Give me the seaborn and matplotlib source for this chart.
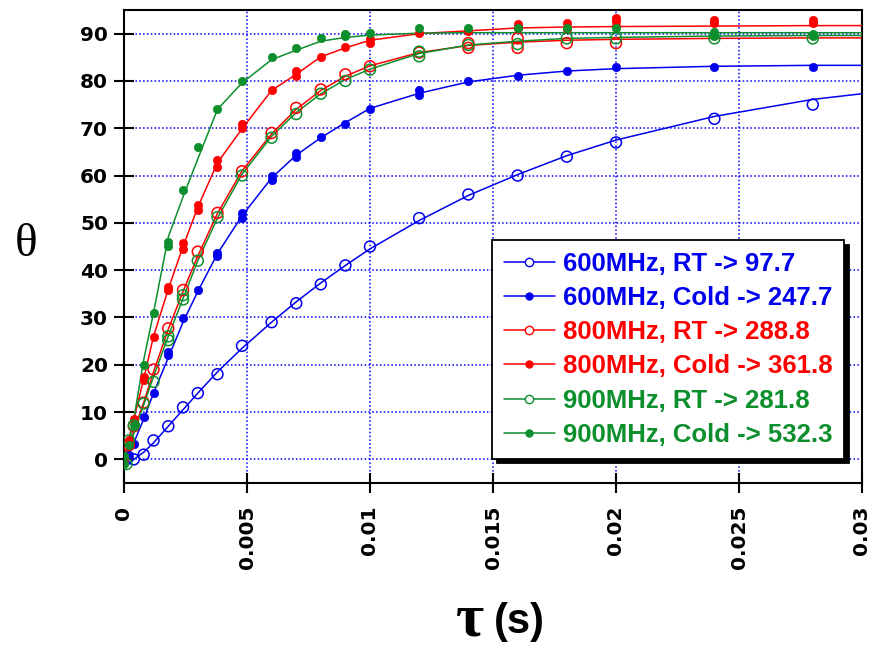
import numpy as np
import pandas as pd
import matplotlib
matplotlib.use("Agg")
import matplotlib.pyplot as plt
from matplotlib.lines import Line2D
import seaborn as sns

# ---- measured points (tau in s, theta in degrees) ----
tau_600_rt = [0.0004, 0.0008, 0.0012, 0.0018, 0.0024, 0.003, 0.0038, 0.0048, 0.006, 0.007,
              0.008, 0.009, 0.01, 0.012, 0.014, 0.016, 0.018, 0.02, 0.024, 0.028]
theta_600_rt = [0, 1, 4, 7, 11, 14, 18, 24, 29, 33,
                37, 41, 45, 51, 56, 60, 64, 67, 72, 75]

tau_600_cold = [0.0002, 0.0004, 0.0008, 0.0012, 0.0018, 0.0018, 0.0024, 0.003, 0.0038, 0.0038,
                0.0048, 0.0048, 0.006, 0.006, 0.007, 0.007, 0.008, 0.009, 0.01, 0.012,
                0.012, 0.014, 0.016, 0.018, 0.02, 0.024, 0.028]
theta_600_cold = [1, 3.2, 9, 14, 22, 22.7, 29.8, 35.7, 43.6, 42.9,
                  52, 51, 60, 59, 64.8, 64, 68.2, 70.8, 74, 78,
                  77, 80, 81, 82, 83, 83, 83]

tau_800_rt = [0.0002, 0.0004, 0.0008, 0.0012, 0.0018, 0.0024, 0.003, 0.0038, 0.0048, 0.006,
              0.007, 0.008, 0.009, 0.01, 0.012, 0.014, 0.014, 0.016, 0.016, 0.018, 0.02]
theta_800_rt = [3, 7, 12, 19, 27.7, 35.8, 43.9, 52.1, 60.9, 69,
                74.3, 78.2, 81.4, 83.1, 86, 88, 87, 89, 87, 88, 88]

tau_800_cold = [0, 0.0002, 0.0002, 0.0004, 0.0008, 0.0008, 0.0012, 0.0018, 0.0018, 0.0024,
                0.0024, 0.003, 0.003, 0.0038, 0.0038, 0.0048, 0.0048, 0.006, 0.007, 0.007,
                0.008, 0.009, 0.01, 0.01, 0.012, 0.014, 0.016, 0.016, 0.018, 0.018,
                0.02, 0.02, 0.02, 0.024, 0.024, 0.028, 0.028]
theta_800_cold = [0, 4, 3.3, 8.6, 17.4, 16.7, 25.9, 36.4, 35.8, 45.8,
                  44.4, 53.7, 52.8, 63.2, 61.9, 70.8, 70.1, 78, 82.1, 81.1,
                  85.1, 87.2, 88.9, 88.1, 90.2, 90.5, 92, 91.2, 92.2, 91,
                  93.4, 92.6, 91.6, 92.9, 92.2, 92.9, 92.2]

tau_900_rt = [0.0001, 0.0002, 0.0004, 0.0008, 0.0012, 0.0018, 0.0018, 0.0024, 0.0024, 0.003,
              0.0038, 0.0048, 0.006, 0.007, 0.008, 0.009, 0.01, 0.012, 0.012, 0.014,
              0.016, 0.018, 0.02, 0.024, 0.028]
theta_900_rt = [-1, 4, 7.2, 11.8, 16.4, 26, 25.2, 34.7, 33.8, 42,
                51.2, 60, 68, 73, 77.3, 80, 82.4, 86.2, 85.2, 87.6,
                87.8, 89, 89, 89, 89]

tau_900_cold = [0, 0, 0.0002, 0.0004, 0.0008, 0.0012, 0.0018, 0.0018, 0.0024, 0.003,
                0.0038, 0.0048, 0.006, 0.007, 0.008, 0.009, 0.009, 0.01, 0.012, 0.014,
                0.016, 0.018, 0.02, 0.024, 0.024, 0.028, 0.028]
theta_900_cold = [0.8, -0.9, 3, 7.2, 20, 31, 46, 45, 57, 66,
                  74, 80, 85, 87, 89.1, 90, 89.5, 90.2, 91.1, 91.1,
                  91.1, 91.1, 91.1, 90.3, 89.5, 90, 89.6]

# ---- fitted curves ----
fit_tau = [0, 0.0004, 0.0008, 0.0012, 0.0018, 0.0024, 0.003, 0.0038, 0.0048, 0.006, 0.007,
           0.008, 0.009, 0.01, 0.012, 0.014, 0.016, 0.018, 0.02, 0.024, 0.028, 0.03]
fit_600_rt = [-2, 0, 1.5, 3.5, 7, 10.5, 14, 18.5, 23.5, 29, 33.3,
              37.3, 41, 44.5, 50.5, 55.8, 60.2, 64.2, 67.5, 72.5, 76.1, 77.3]
fit_600_cold = [-1, 3.5, 8.5, 14, 21.5, 29, 35.5, 43.5, 51.5, 59.5, 64.3,
                68, 71.2, 74.2, 77.4, 79.8, 81.2, 82.1, 82.6, 83.1, 83.3, 83.3]
fit_800_rt = [0, 6, 12, 18.5, 27.5, 35.5, 43, 52, 61, 68.8, 74,
              78, 81, 83.2, 86, 87.5, 88.2, 88.6, 88.8, 89.0, 89.1, 89.1]
fit_800_cold = [0, 8.5, 17, 26, 36, 45, 53.3, 62.7, 69.9, 78, 81.4,
                85.1, 87, 88.6, 90, 90.6, 91.2, 91.4, 91.5, 91.6, 91.7, 91.7]
fit_900_rt = [-1, 5.5, 11.5, 17.5, 26, 34, 42, 51, 60.3, 68.3, 73.3,
              77.3, 80.3, 82.5, 85.8, 87.6, 88.4, 89, 89.2, 89.5, 89.6, 89.6]
fit_900_cold = [-1.5, 8.5, 21, 31, 47, 55.5, 63.5, 74, 79.6, 84.5, 86.5,
                88.4, 89.2, 89.7, 90.1, 90.2, 90.2, 90.2, 90.2, 90.2, 90.2, 90.2]

labels = ["600MHz, RT -> 97.7", "600MHz, Cold -> 247.7",
          "800MHz, RT -> 288.8", "800MHz, Cold -> 361.8",
          "900MHz, RT -> 281.8", "900MHz, Cold -> 532.3"]

BLUE, RED, GREEN = "#0000ee", "#ff0000", "#0c8f2c"

series = [
    (tau_600_rt, theta_600_rt, fit_600_rt, BLUE, True),
    (tau_600_cold, theta_600_cold, fit_600_cold, BLUE, False),
    (tau_800_rt, theta_800_rt, fit_800_rt, RED, True),
    (tau_800_cold, theta_800_cold, fit_800_cold, RED, False),
    (tau_900_rt, theta_900_rt, fit_900_rt, GREEN, True),
    (tau_900_cold, theta_900_cold, fit_900_cold, GREEN, False),
]

sns.set_theme(style="white")
plt.rcParams["font.family"] = ["DejaVu Sans"]
plt.rcParams["text.color"] = "black"
plt.rcParams["xtick.color"] = "black"
plt.rcParams["ytick.color"] = "black"

fig = plt.figure(figsize=(8.75, 6.49), dpi=100)
ax = fig.add_axes([124 / 875, 1 - 483 / 649, 738 / 875, 473 / 649])

for tau, theta, fit, color, hollow in series:
    fit_df = pd.DataFrame({"tau": fit_tau, "theta": fit})
    sns.lineplot(data=fit_df, x="tau", y="theta", ax=ax, color=color,
                 linewidth=1.1, estimator=None, sort=False, zorder=3)
    pts = pd.DataFrame({"tau": tau, "theta": theta})
    if hollow:
        sns.scatterplot(data=pts, x="tau", y="theta", ax=ax, marker="o", s=62,
                        facecolors="none", edgecolor=color, linewidth=1.1, zorder=4)
    else:
        sns.scatterplot(data=pts, x="tau", y="theta", ax=ax, marker="o", s=36,
                        color=color, edgecolor=color, linewidth=0.5, zorder=4)

ax.set_xlim(0, 0.03)
ax.set_ylim(-5, 95)
ax.set_xticks([0, 0.005, 0.01, 0.015, 0.02, 0.025, 0.03])
ax.set_xticklabels(["0", "0.005", "0.01", "0.015", "0.02", "0.025", "0.03"],
                   rotation=90, fontweight="bold", fontsize=14.5, color="black")
ax.set_yticks(np.arange(0, 91, 10))
ax.set_yticklabels([str(v) for v in range(0, 91, 10)], fontweight="bold",
                   fontsize=14.5, color="black")
ax.tick_params(axis="both", direction="inout", length=15, width=1.5, color="black",
               bottom=True, left=True, top=False, right=False)
ax.tick_params(axis="x", pad=9)
ax.tick_params(axis="y", pad=4)
ax.set_xlabel("")
ax.set_ylabel("")

ax.grid(True, color="#0000ff", linestyle=(0, (1, 1.5)), linewidth=1.1)
for s in ax.spines.values():
    s.set_color("black")
    s.set_linewidth(1.5)
    s.set_visible(True)

# legend
colors = [BLUE, BLUE, RED, RED, GREEN, GREEN]
handles = []
for (tau, theta, fit, color, hollow) in series:
    handles.append(Line2D([], [], color=color, linewidth=1.1, marker="o",
                          markersize=6 if hollow else 5,
                          markerfacecolor="white" if hollow else color,
                          markeredgecolor=color, markeredgewidth=1.0))
leg = ax.legend(handles, labels, loc="upper left", bbox_to_anchor=(0.4986, 0.5137),
                borderaxespad=0, frameon=True, fancybox=False, framealpha=1,
                edgecolor="black", handlelength=2.0, handletextpad=0.3,
                labelspacing=0.4, borderpad=0.45,
                prop={"family": "Liberation Sans", "weight": "bold", "size": 18.5},
                shadow={"ox": 3.5, "oy": -3.5, "facecolor": "black",
                        "edgecolor": "black", "alpha": 1})
leg.get_frame().set_linewidth(1.3)
for txt, c in zip(leg.get_texts(), colors):
    txt.set_color(c)
leg.set_zorder(10)

# axis titles
fig.text(26 / 875, 1 - 245 / 649, "θ", family="Liberation Serif", fontsize=34,
         ha="center", va="center", color="black")
fig.text(470 / 875, 1 - 620 / 649, "τ", family="Liberation Serif", fontweight="bold",
         fontsize=44, ha="center", va="center", color="black")
fig.text(519 / 875, 1 - 622 / 649, "(s)", family="Liberation Sans", fontweight="bold",
         fontsize=30, ha="center", va="center", color="black")

fig.savefig("out.png", dpi=100, facecolor="white")
